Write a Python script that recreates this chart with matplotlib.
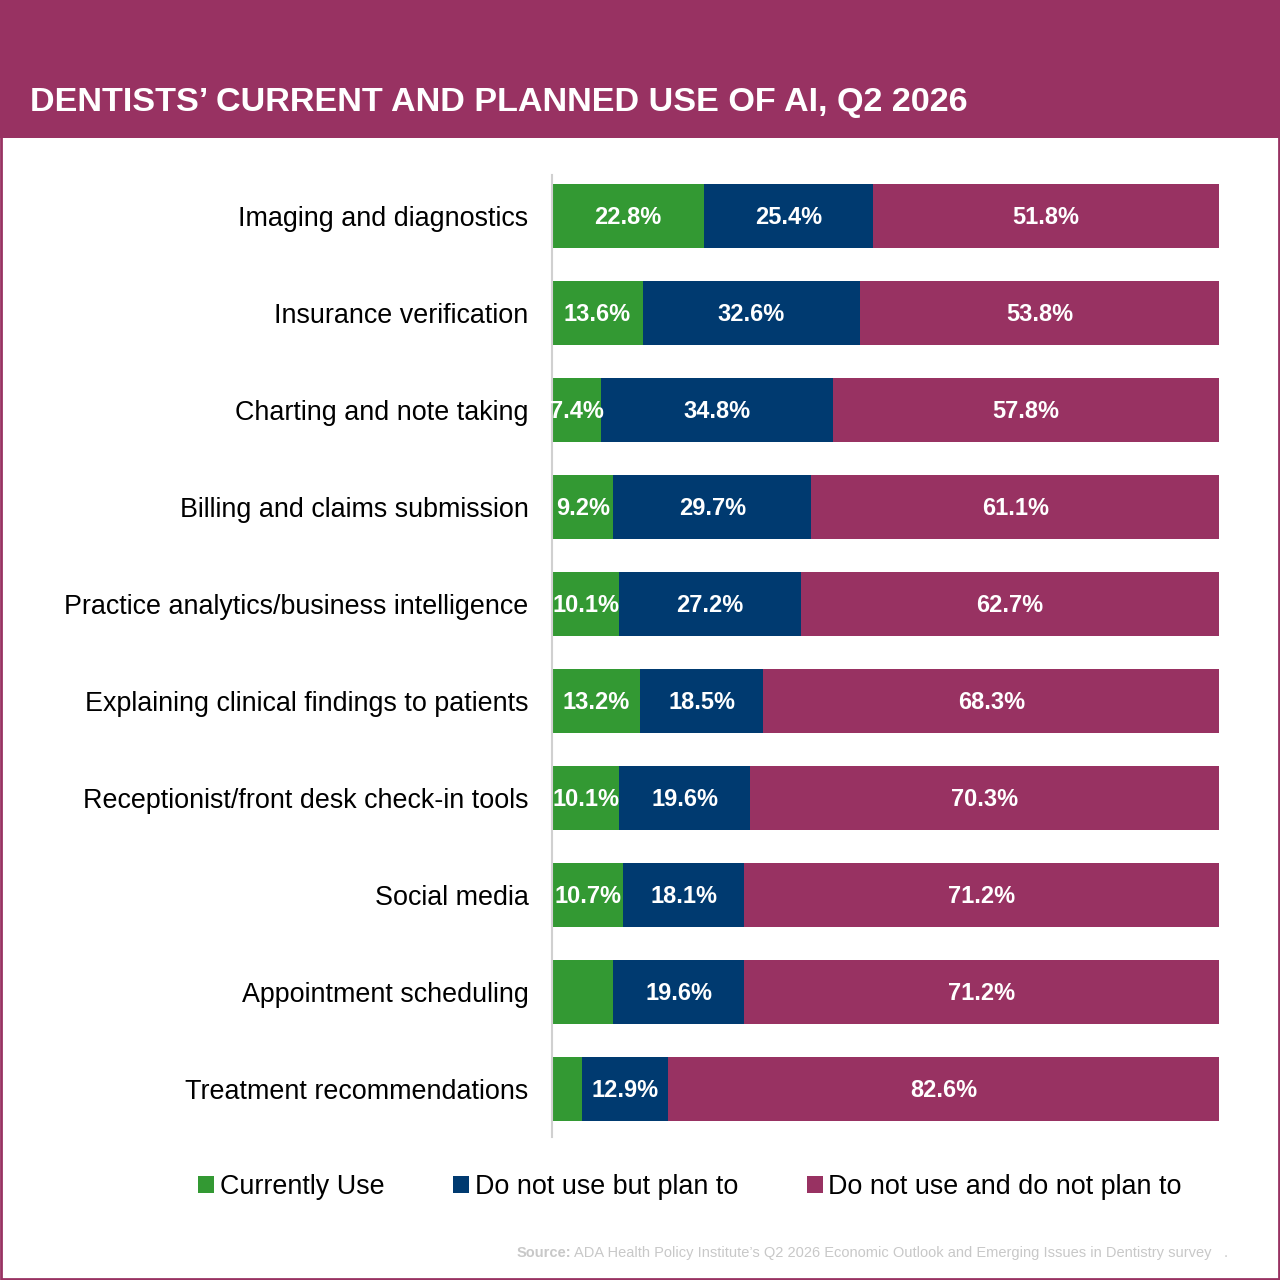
import numpy as np
import matplotlib.pyplot as plt
from matplotlib.patches import Rectangle, Patch

plt.rcParams['font.family'] = ['Liberation Sans', 'DejaVu Sans']

categories = ['Imaging and diagnostics', 'Insurance verification', 'Charting and note taking',
              'Billing and claims submission', 'Practice analytics/business intelligence',
              'Explaining clinical findings to patients', 'Receptionist/front desk check-in tools',
              'Social media', 'Appointment scheduling', 'Treatment recommendations']
currently_use = [22.8, 13.6, 7.4, 9.2, 10.1, 13.2, 10.1, 10.7, 9.2, 4.5]
plan_to = [25.4, 32.6, 34.8, 29.7, 27.2, 18.5, 19.6, 18.1, 19.6, 12.9]
no_plan = [51.8, 53.8, 57.8, 61.1, 62.7, 68.3, 70.3, 71.2, 71.2, 82.6]
# the source leaves the two smallest green segments unlabelled
show_green = [True, True, True, True, True, True, True, True, False, False]

series_names = ['Currently Use', 'Do not use but plan to', 'Do not use and do not plan to']
colors = ['#339933', '#003a70', '#983262']
header_color = '#983262'

fig = plt.figure(figsize=(12.8, 12.8), dpi=100)
fig.patch.set_facecolor('white')

# header band and border
fig.patches.append(Rectangle((0, 1 - 138 / 1280), 1, 138 / 1280, transform=fig.transFigure,
                             facecolor=header_color, edgecolor='none', zorder=0))
fig.patches.append(Rectangle((0.001, 0.001), 0.998, 0.998, transform=fig.transFigure,
                             facecolor='none', edgecolor=header_color, lw=2, zorder=1))
fig.text(30 / 1280, 1 - 102 / 1280, 'DENTISTS\u2019 CURRENT AND PLANNED USE OF AI, Q2 2026',
         color='white', fontsize=24.6, fontweight='bold', va='center', ha='left')

ax = fig.add_axes([552 / 1280, 1 - 1137 / 1280, 667 / 1280, 962 / 1280])
y = np.arange(len(categories))
h = 64 / 97

data = [currently_use, plan_to, no_plan]
left = np.zeros(len(categories))
for i, vals in enumerate(data):
    vals = np.array(vals)
    ax.barh(y, vals, left=left, height=h, color=colors[i], edgecolor='none', label=series_names[i])
    for j, v in enumerate(vals):
        if i == 0 and not show_green[j]:
            continue
        ax.text(left[j] + v / 2, y[j] + 0.02, f'{v:.1f}%', color='white', fontsize=17,
                fontweight='bold', ha='center', va='center')
    left += vals

ax.set_xlim(0, 100)
ax.set_ylim(len(categories) - 1 + 48 / 97, -41 / 97)
ax.set_yticks(y)
ax.set_yticklabels(categories, fontsize=19.4)
ax.set_xticks([])
ax.tick_params(axis='y', length=0, pad=17)
for s in ['top', 'right', 'bottom']:
    ax.spines[s].set_visible(False)
ax.spines['left'].set_color('#d0d0d0')
ax.spines['left'].set_linewidth(1.5)

handles = [Patch(facecolor=c, edgecolor='none') for c in colors]
fig.legend(handles, series_names, loc='center', bbox_to_anchor=(690 / 1280, 1 - 1187 / 1280),
           ncol=3, frameon=False, fontsize=19.4, handlelength=0.6, handleheight=0.6,
           handletextpad=0.2, columnspacing=2.55)

fig.text(1212 / 1280, 1 - 1253 / 1280,
         'ADA Health Policy Institute\u2019s Q2 2026 Economic Outlook and Emerging Issues in Dentistry survey',
         color='#c8c8c8', fontsize=10.5, ha='right', va='center')
fig.text(517 / 1280, 1 - 1253 / 1280, 'Source:', color='#c8c8c8', fontsize=10.5,
         fontweight='bold', ha='left', va='center')
fig.text(1226 / 1280, 1 - 1253 / 1280, '.', color='#c8c8c8', fontsize=10.5,
         ha='center', va='center')

fig.savefig('out.png', dpi=100)
